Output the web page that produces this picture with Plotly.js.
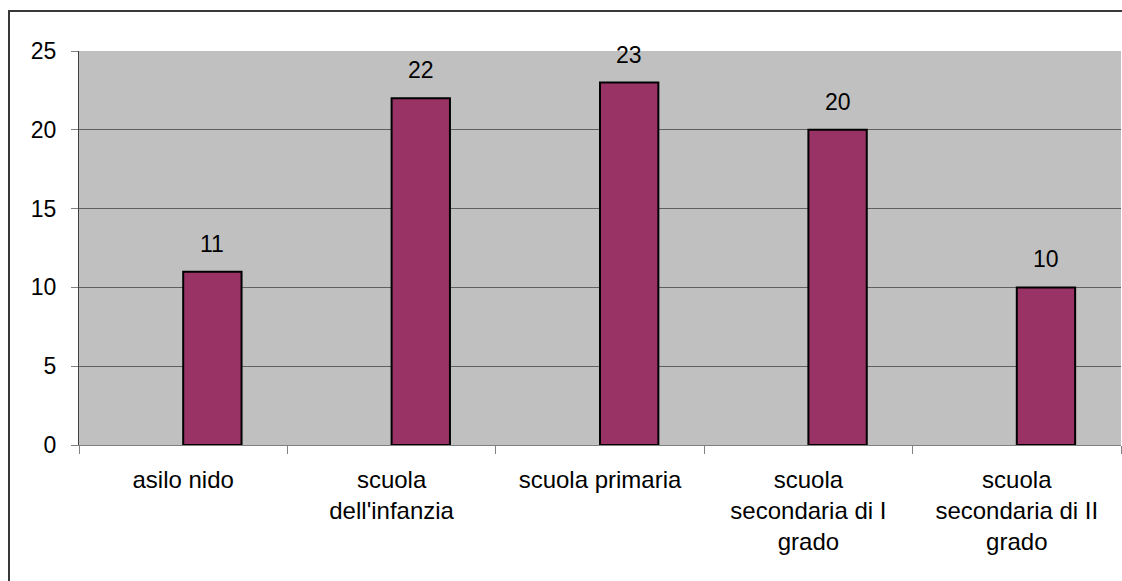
<!DOCTYPE html>
<html>
<head>
<meta charset="utf-8">
<script src="https://cdn.plot.ly/plotly-3.0.1.min.js"></script>
<style>
  html, body { margin: 0; padding: 0; background: #ffffff; }
  #chart { width: 1122px; height: 581px; }
</style>
</head>
<body>
<div id="chart"></div>
<script>
const categories = [
  "asilo nido",
  "scuola<br>dell'infanzia",
  "scuola primaria",
  "scuola<br>secondaria di I<br>grado",
  "scuola<br>secondaria di II<br>grado"
];
const values = [11, 22, 23, 20, 10];
const yTicks = [0, 5, 10, 15, 20, 25];

const BAR_W = 0.28;
const FONT = "Liberation Sans, Arial, sans-serif";

const trace = {
  type: "bar",
  x: categories,
  y: values,
  width: BAR_W,
  offset: 0,
  marker: { color: "#993366", line: { color: "#000000", width: 2 } },
  hoverinfo: "x+y"
};

const annotations = values.map((v, i) => ({
  x: i + BAR_W / 2,
  y: v,
  xref: "x",
  yref: "y",
  text: String(v),
  showarrow: false,
  yanchor: "middle",
  yshift: 28,
  font: { family: FONT, size: 23, color: "#000000" }
}));

const layout = {
  width: 1122,
  height: 581,
  margin: { l: 79, r: 1, t: 51, b: 136 },
  paper_bgcolor: "#ffffff",
  plot_bgcolor: "#c0c0c0",
  showlegend: false,
  bargap: 0,
  font: { family: FONT, size: 23, color: "#000000" },
  xaxis: {
    type: "category",
    showgrid: false,
    showline: true,
    linecolor: "#808080",
    linewidth: 1,
    ticks: "outside",
    tickson: "boundaries",
    ticklen: 8,
    tickcolor: "#808080",
    tickwidth: 1,
    ticklabelstandoff: 13,
    tickfont: { family: FONT, size: 24, color: "#000000" },
    fixedrange: true
  },
  yaxis: {
    range: [0, 25],
    tickvals: yTicks,
    ticktext: yTicks.map(String),
    showgrid: true,
    gridcolor: "#606060",
    gridwidth: 1,
    zeroline: false,
    showline: true,
    linecolor: "#404040",
    linewidth: 1,
    ticks: "outside",
    ticklen: 7,
    tickcolor: "#808080",
    tickwidth: 1,
    ticklabelstandoff: 10,
    tickfont: { family: FONT, size: 23, color: "#000000" },
    fixedrange: true
  },
  annotations: annotations,
  shapes: [{
    type: "rect",
    xref: "paper",
    yref: "paper",
    x0: -70 / 1042,
    x1: 1.2,
    y0: -0.5,
    y1: 1 + 40 / 394,
    line: { color: "#383838", width: 2 },
    fillcolor: "rgba(0,0,0,0)",
    layer: "above"
  }]
};

Plotly.newPlot("chart", [trace], layout, { displayModeBar: false, staticPlot: true });
</script>
</body>
</html>
